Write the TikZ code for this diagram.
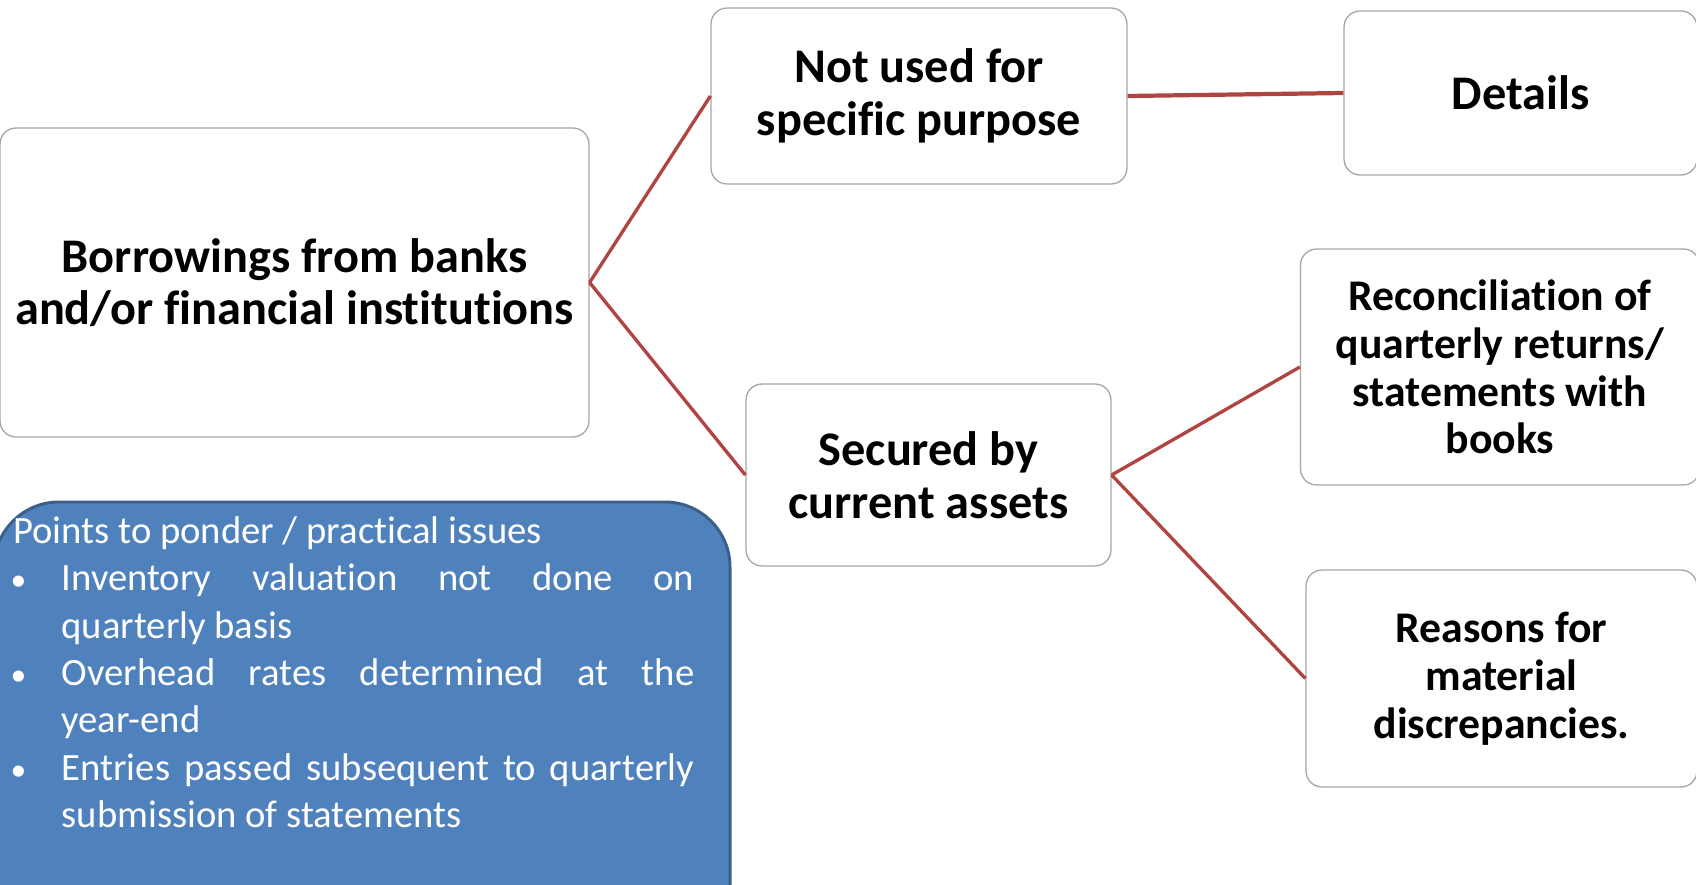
\documentclass[tikz,border=0pt]{standalone}
\usepackage{fontspec}
\setmainfont{Carlito}[Ligatures={NoCommon}]
\usepackage{tikz}
\usetikzlibrary{positioning}

\definecolor{linkred}{HTML}{B04441}
\definecolor{boxgray}{HTML}{A6A6A6}
\definecolor{notefill}{HTML}{4F81BD}
\definecolor{notedraw}{HTML}{3A5F8B}

\newcommand{\noteitem}[1]{\par\hangindent=27.5pt\hangafter=1\noindent\makebox[27.5pt][l]{\hspace{-1.6pt}{\fontsize{18}{18}\selectfont •}}#1}

\begin{document}
\begin{tikzpicture}[x=0.02cm, y=-0.02cm,
  topicbox/.style={draw=boxgray, line width=0.75pt, fill=white, rounded corners=0.32cm,
    align=center, font=\bfseries\fontsize{27.5}{30}\selectfont, inner sep=0pt},
  leafbox/.style={topicbox, font=\bfseries\fontsize{24.9}{27.2}\selectfont},
  link/.style={draw=linkred, line width=1.9pt}]
\clip (0,0) rectangle (1696,885);
\useasboundingbox (0,0) rectangle (1696,885);

% Boxes
\node[topicbox, minimum width=11.78cm, minimum height=6.18cm] (borrow) at (294.5,282.5)
  {Borrowings from banks\\and/or financial institutions};
\node[topicbox, minimum width=8.32cm, minimum height=3.52cm] (unused) at (919,96)
  {Not used for\\specific purpose};
\node[topicbox, minimum width=7.06cm, minimum height=3.28cm] (details) at (1520.5,93)
  {Details};
\node[topicbox, minimum width=7.3cm, minimum height=3.64cm] (secured) at (928.5,475)
  {Secured by\\current assets};
\node[leafbox, minimum width=7.98cm, minimum height=4.72cm] (recon) at (1500,367)
  {Reconciliation of\\quarterly returns/\\statements with\\books};
\node[leafbox, minimum width=7.82cm, minimum height=4.34cm] (reasons) at (1501.5,678.5)
  {Reasons for\\material\\discrepancies.};

% Connectors
\draw[link] (borrow.east) -- (unused.west);
\draw[link] (borrow.east) -- (secured.west);
\draw[link, line width=2.4pt] (unused.east) -- (details.west);
\draw[link] (secured.east) -- (recon.west);
\draw[link] (secured.east) -- (reasons.west);

% Note box
\draw[fill=notefill, draw=notedraw, line width=1.7pt, rounded corners=1.3cm]
  (-6,502) rectangle (730,950);
\node[anchor=north west, text width=13.62cm, align=justify, inner sep=0pt, text=white,
  font=\fontsize{22}{27}\selectfont] (ponder) at (13,516)
  {\parindent=0pt\hyphenpenalty=10000\exhyphenpenalty=10000
   Points to ponder / practical issues
   \noteitem{Inventory valuation not done on quarterly basis}
   \noteitem{Overhead rates determined at the year-end}
   \noteitem{Entries passed subsequent to quarterly submission of statements}\par};
\end{tikzpicture}
\end{document}
